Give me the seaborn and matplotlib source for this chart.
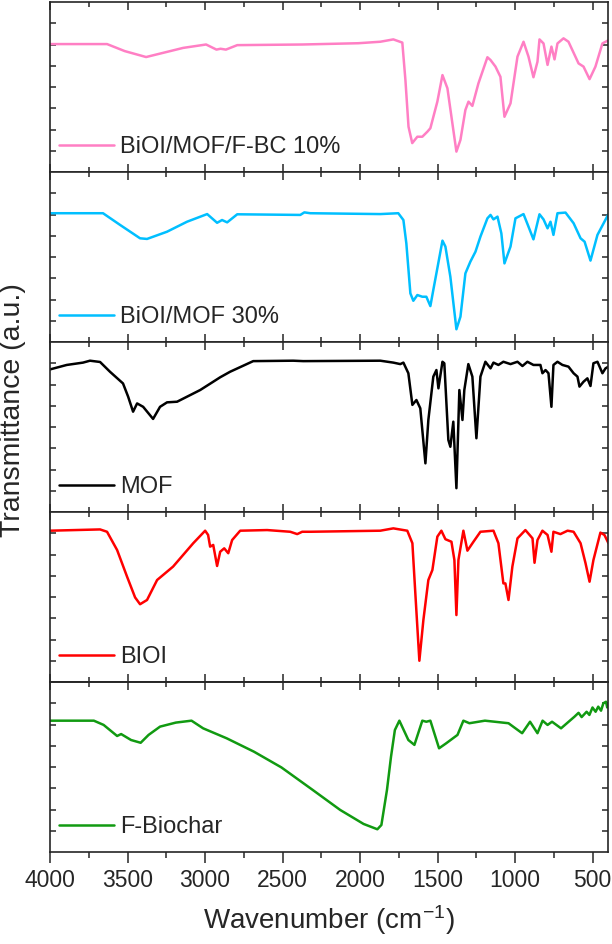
import seaborn as sns
import matplotlib.pyplot as plt
import pandas as pd

# spectra (wavenumber in cm-1, transmittance in arbitrary panel units 0-8)
names = ['BiOI/MOF/F-BC 10%', 'BiOI/MOF 30%', 'MOF', 'BIOI', 'F-Biochar']
colors = ['#ff7fc4', '#00bfff', '#000000', '#ff0000', '#119a11']

pink_wn = [4000, 3632, 3518, 3380, 3141, 2993, 2926, 2900, 2865, 2792, 2372, 2011, 1869, 1785, 1727, 1707,
           1687, 1663, 1630, 1598, 1565, 1546, 1501, 1468, 1436, 1404, 1378, 1352, 1320, 1300, 1275, 1236,
           1178, 1158, 1126, 1094, 1068, 1029, 984, 945, 913, 881, 855, 842, 816, 790, 765, 745, 726, 687,
           655, 590, 558, 519, 481, 436, 397]
pink_t = [6.02, 6.02, 5.69, 5.41, 5.84, 6.0, 5.76, 5.8, 5.76, 5.97, 6.0, 6.06, 6.13, 6.24, 6.09, 4.33,
          2.13, 1.36, 1.66, 1.66, 1.9, 2.06, 3.31, 4.56, 3.94, 2.29, 0.96, 1.51, 2.92, 3.31, 3.11, 4.17,
          5.4, 5.27, 4.96, 4.48, 2.6, 3.23, 5.43, 6.13, 5.43, 4.46, 5.19, 6.24, 6.05, 5.04, 5.9, 5.3, 6.05,
          6.29, 6.13, 5.11, 4.96, 4.37, 4.96, 6.05, 6.2]

blue_wn = [4000, 3658, 3548, 3419, 3374, 3245, 3116, 2986, 2922, 2890, 2857, 2792, 2385, 2359, 2321, 1869,
           1753, 1720, 1701, 1675, 1656, 1630, 1598, 1572, 1546, 1527, 1501, 1468, 1449, 1417, 1378, 1352,
           1320, 1288, 1255, 1223, 1178, 1158, 1139, 1113, 1088, 1068, 1029, 997, 945, 913, 881, 842, 816,
           790, 771, 752, 726, 674, 622, 577, 551, 513, 468, 397]
blue_t = [6.06, 6.06, 5.51, 4.88, 4.85, 5.19, 5.66, 6.02, 5.61, 5.74, 5.63, 6.01, 5.98, 6.1, 6.06, 6.02,
          6.06, 5.74, 4.64, 2.29, 1.94, 2.21, 2.13, 2.13, 1.69, 2.45, 3.47, 4.77, 4.49, 3.07, 0.6, 1.19,
          3.23, 3.78, 4.25, 4.96, 5.82, 5.98, 5.77, 5.9, 5.11, 3.7, 4.49, 5.82, 6.02, 5.43, 4.83, 6.01, 5.77,
          5.35, 5.66, 5.04, 6.06, 6.09, 5.59, 4.88, 4.72, 3.83, 5.04, 6.02]

mof_wn = [4000, 3892, 3787, 3742, 3677, 3613, 3529, 3496, 3464, 3438, 3399, 3335, 3290, 3245, 3180, 3031,
          2947, 2902, 2838, 2689, 2431, 2366, 1869, 1785, 1740, 1720, 1688, 1662, 1636, 1611, 1578, 1559,
          1527, 1507, 1494, 1468, 1456, 1430, 1417, 1398, 1378, 1359, 1339, 1327, 1301, 1275, 1249, 1223,
          1191, 1158, 1139, 1107, 1075, 1029, 984, 952, 920, 881, 836, 823, 803, 784, 765, 752, 726, 694,
          655, 622, 597, 584, 558, 533, 513, 494, 468, 436, 416, 397]
mof_t = [6.71, 6.92, 7.03, 7.12, 7.06, 6.6, 6.05, 5.43, 4.72, 5.11, 4.95, 4.38, 4.95, 5.16, 5.19, 5.74,
         6.13, 6.34, 6.6, 7.1, 7.12, 7.1, 7.12, 7.03, 6.96, 7.03, 6.53, 5.04, 5.27, 4.88, 2.29, 4.33,
         6.37, 6.68, 5.82, 7.07, 7.0, 3.39, 3.07, 4.25, 1.12, 5.74, 4.33, 5.74, 6.96, 6.37, 3.47, 6.37,
         7.07, 6.76, 7.03, 6.92, 7.07, 6.96, 7.07, 6.87, 7.07, 6.92, 6.92, 6.53, 6.68, 6.53, 4.95, 6.92,
         7.07, 6.92, 6.84, 6.53, 6.37, 5.9, 6.13, 6.29, 5.93, 7.0, 7.07, 6.53, 6.76, 6.84]

bioi_wn = [4000, 3677, 3632, 3567, 3503, 3451, 3419, 3374, 3309, 3206, 3076, 2999, 2980, 2967, 2947, 2922,
           2902, 2876, 2850, 2825, 2773, 2599, 2450, 2405, 2373, 2321, 1869, 1785, 1695, 1662, 1643, 1617,
           1591, 1559, 1533, 1501, 1475, 1449, 1410, 1391, 1378, 1365, 1333, 1307, 1268, 1223, 1139, 1107,
           1075, 1062, 1042, 1017, 984, 933, 887, 874, 855, 823, 790, 765, 752, 707, 661, 622, 577, 545,
           519, 494, 449, 423, 397]
bioi_t = [7.12, 7.18, 7.07, 6.21, 4.96, 3.98, 3.66, 3.86, 4.8, 5.43, 6.53, 7.12, 6.92, 6.37, 6.45, 5.46,
          6.13, 6.29, 6.06, 6.68, 7.12, 7.15, 7.07, 6.96, 7.07, 7.07, 7.12, 7.23, 7.12, 6.53, 4.17, 1.0,
          2.92, 4.8, 5.27, 6.84, 7.12, 6.72, 6.6, 5.74, 3.15, 5.74, 7.12, 6.18, 6.6, 7.07, 7.12, 6.53,
          4.64, 4.64, 3.86, 5.43, 6.76, 7.15, 6.76, 5.61, 6.68, 7.12, 6.92, 6.13, 7.07, 6.96, 7.12, 7.07,
          6.53, 5.59, 4.72, 5.74, 7.03, 6.92, 6.53]

fbc_wn = [4000, 3717, 3654, 3567, 3541, 3477, 3415, 3364, 3290, 3188, 3087, 3012, 2860, 2684, 2507, 2305,
          2128, 1977, 1888, 1862, 1826, 1800, 1775, 1746, 1688, 1649, 1598, 1572, 1546, 1490, 1445, 1371,
          1333, 1294, 1194, 1042, 954, 903, 855, 822, 790, 761, 703, 616, 590, 570, 538, 520, 500, 480,
          463, 445, 430, 413, 405, 397]
fbc_t = [6.18, 6.18, 5.98, 5.46, 5.55, 5.27, 5.14, 5.51, 5.9, 6.09, 6.18, 5.82, 5.35, 4.72, 3.98, 2.92,
         1.98, 1.32, 1.07, 1.27, 2.92, 4.48, 5.74, 6.18, 5.27, 5.04, 6.18, 6.13, 6.18, 4.88, 5.11, 5.51,
         6.18, 6.06, 6.18, 6.06, 5.59, 6.13, 5.59, 6.18, 5.98, 6.13, 5.82, 6.37, 6.55, 6.35, 6.6, 6.45,
         6.8, 6.6, 6.84, 6.65, 7.0, 7.07, 6.8, 6.92]

spectra = [(pink_wn, pink_t), (blue_wn, blue_t), (mof_wn, mof_t), (bioi_wn, bioi_t), (fbc_wn, fbc_t)]

sns.set_style("ticks")
plt.rcParams['font.family'] = ['Liberation Sans', 'DejaVu Sans']
plt.rcParams['mathtext.default'] = 'regular'

fig, axes = plt.subplots(5, 1, sharex=True, figsize=(6.12, 9.44), dpi=100)
fig.subplots_adjust(left=50/612, right=608/612, top=1-2/944, bottom=1-852/944, hspace=0)

for i, (ax, (wn, t)) in enumerate(zip(axes, spectra)):
    df = pd.DataFrame({'wn': wn, 't': t})
    sns.lineplot(data=df, x='wn', y='t', ax=ax, color=colors[i], lw=1.8,
                 label=names[i], sort=False, estimator=None,
                 solid_joinstyle='round', solid_capstyle='round')
    ax.set_ylim(0, 8)
    ax.set_yticks([1, 2, 3, 4, 5, 6, 7])
    ax.set_yticklabels([])
    ax.set_ylabel('')
    ax.set_xlabel('')
    for s in ax.spines.values():
        s.set_linewidth(1.2)
    ax.tick_params(axis='y', direction='in', left=True, right=True, length=4, width=1.1)
    ax.tick_params(axis='x', which='both', direction='in', top=True, bottom=True, width=1.1)
    ax.tick_params(axis='x', which='major', length=6)
    ax.tick_params(axis='x', which='minor', length=3.5)
    ax.legend(loc='center left', bbox_to_anchor=(0, 25/170), borderaxespad=0, frameon=False,
              fontsize=17, handlelength=2.3, handletextpad=0.25)

ax = axes[-1]
ax.set_xlim(4000, 400)
ax.set_xticks([4000, 3500, 3000, 2500, 2000, 1500, 1000, 500])
ax.set_xticks(range(3750, 400, -500), minor=True)
ax.tick_params(axis='x', which='both', direction='out', top=False, labelsize=16.5, pad=4)
ax.tick_params(axis='x', which='major', length=8)
ax.tick_params(axis='x', which='minor', length=4)
top = ax.secondary_xaxis('top')
top.set_xticks([4000, 3500, 3000, 2500, 2000, 1500, 1000, 500])
top.set_xticks(range(3750, 400, -500), minor=True)
top.tick_params(axis='x', which='both', direction='in', labeltop=False, width=1.1)
top.tick_params(axis='x', which='major', length=6)
top.tick_params(axis='x', which='minor', length=3.5)
top.spines['top'].set_linewidth(1.2)

ax.set_xlabel('Wavenumber (cm$^{-1}$)', fontsize=20, labelpad=8)
fig.text(13/612, 1-410/944, 'Transmittance (a.u.)', rotation=90, va='center', ha='center', fontsize=20.5)

fig.savefig('out.png', dpi=100)
